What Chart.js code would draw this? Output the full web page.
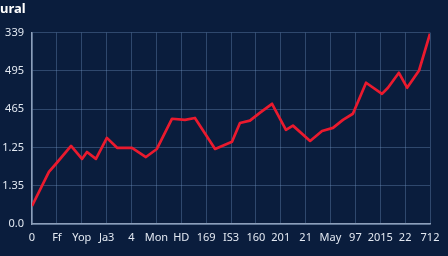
<!DOCTYPE html>
<html>
<head>
<meta charset="utf-8">
<script src="https://cdn.jsdelivr.net/npm/chart.js@4/dist/chart.umd.min.js"></script>
<style>
  html, body { margin: 0; padding: 0; background: #0a1d3d; }
  #wrap { width: 448px; height: 256px; }
</style>
</head>
<body>
<div id="wrap"><canvas id="c" width="448" height="256"></canvas></div>
<script>
const titleText = 'ural';
const xTickLabels = ['0', 'Ff', 'Yop', 'Ja3', '4', 'Mon', 'HD', '169', 'IS3', '160', '201', '21', 'May', '97', '2015', '22', '712'];
const yTickLabels = ['0.0', '1.35', '1.25', '465', '495', '339'];
const seriesX = [0, 0.68, 1.0, 1.57, 2.01, 2.21, 2.57, 3.01, 3.42, 4.02, 4.58, 5.02, 5.63, 6.15, 6.55, 7.36, 8.04, 8.36, 8.76, 9.17, 9.65, 10.21, 10.49, 11.18, 11.66, 12.10, 12.50, 12.90, 13.43, 14.07, 14.31, 14.75, 15.08, 15.56, 16.0];
const seriesY = [0.47, 1.36, 1.60, 2.04, 1.70, 1.88, 1.70, 2.25, 1.99, 1.99, 1.75, 1.96, 2.75, 2.72, 2.77, 1.96, 2.15, 2.64, 2.70, 2.91, 3.14, 2.46, 2.57, 2.17, 2.43, 2.51, 2.72, 2.88, 3.69, 3.40, 3.56, 3.95, 3.56, 4.01, 4.97];

const points = seriesX.map((x, i) => ({ x: x, y: seriesY[i] }));
const bg = { id: 'bg', beforeDraw(chart) { const c = chart.ctx; c.save(); c.fillStyle = '#0a1d3d'; c.fillRect(0, 0, chart.width, chart.height); c.restore(); } };

new Chart(document.getElementById('c'), {
  type: 'line',
  data: { datasets: [{ data: points, borderColor: '#ea1a2e', borderWidth: 2.7, pointRadius: 0, tension: 0, fill: false, borderJoinStyle: 'round' }] },
  plugins: [bg],
  options: {
    responsive: false,
    animation: false,
    layout: { padding: { left: 0, right: 18, top: 1, bottom: 0 } },
    plugins: {
      legend: { display: false },
      tooltip: { enabled: false },
      title: { display: true, text: titleText, align: 'start', color: '#ffffff', font: { family: 'Noto Sans', size: 13, weight: 'bold' }, padding: { top: 0, bottom: 16 } }
    },
    scales: {
      x: {
        type: 'linear', min: 0, max: 16,
        afterFit(s) { s.height = 32; },
        ticks: { stepSize: 1, autoSkip: false, maxRotation: 0, padding: 7, color: '#e3e9f2', font: { family: 'Noto Sans', size: 11 }, callback: (v, i) => xTickLabels[i] },
        grid: { color: 'rgba(115,150,195,0.36)', lineWidth: 1, drawTicks: false },
        border: { color: '#8d9fba', width: 1.5 }
      },
      y: {
        type: 'linear', min: 0, max: 5,
        afterFit(s) { s.width = 32; },
        ticks: { stepSize: 1, padding: 8, color: '#e3e9f2', font: { family: 'Noto Sans', size: 11 }, callback: (v, i) => yTickLabels[i] },
        grid: { color: 'rgba(115,150,195,0.36)', lineWidth: 1, drawTicks: false },
        border: { color: '#8d9fba', width: 1.5 }
      }
    }
  }
});
</script>
</body>
</html>
